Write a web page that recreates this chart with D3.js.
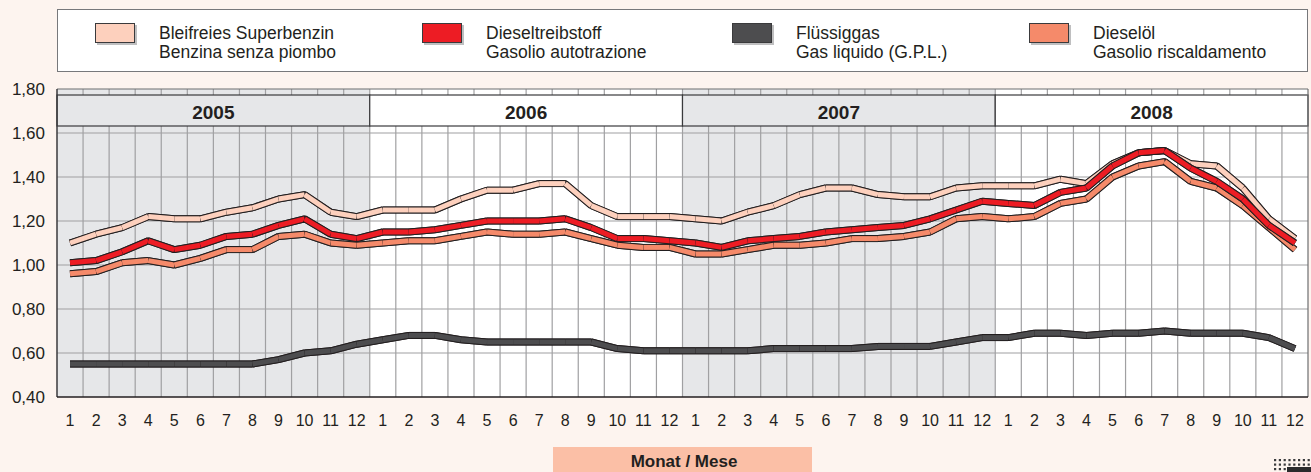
<!DOCTYPE html>
<html><head><meta charset="utf-8">
<script src="https://cdn.jsdelivr.net/npm/d3@7/dist/d3.min.js"></script>
<style>
html,body{margin:0;padding:0;background:#fdf4ef;}
svg{display:block;font-family:"Liberation Sans",Arial,sans-serif;}
</style></head><body>
<svg id="c" width="1311" height="472"></svg>
<script>
const years = ["2005","2006","2007","2008"];
const monthLabels = ["1","2","3","4","5","6","7","8","9","10","11","12"];
const yTicks = [0.40,0.60,0.80,1.00,1.20,1.40,1.60,1.80];

const benzin = [1.10,1.14,1.17,1.22,1.21,1.21,1.24,1.26,1.30,1.32,1.24,1.22,
 1.25,1.25,1.25,1.30,1.34,1.34,1.37,1.37,1.27,1.22,1.22,1.22,
 1.21,1.20,1.24,1.27,1.32,1.35,1.35,1.32,1.31,1.31,1.35,1.36,
 1.36,1.36,1.39,1.37,1.46,1.51,1.52,1.46,1.45,1.35,1.21,1.12];
const diesel = [1.01,1.02,1.06,1.11,1.07,1.09,1.13,1.14,1.18,1.21,1.14,1.12,
 1.15,1.15,1.16,1.18,1.20,1.20,1.20,1.21,1.17,1.12,1.12,1.11,
 1.10,1.08,1.11,1.12,1.13,1.15,1.16,1.17,1.18,1.21,1.25,1.29,
 1.28,1.27,1.33,1.35,1.45,1.51,1.52,1.44,1.38,1.30,1.18,1.10];
const heizoel = [0.96,0.97,1.01,1.02,1.00,1.03,1.07,1.07,1.13,1.14,1.10,1.09,
 1.10,1.11,1.11,1.13,1.15,1.14,1.14,1.15,1.12,1.09,1.08,1.08,
 1.05,1.05,1.07,1.09,1.09,1.10,1.12,1.12,1.13,1.15,1.21,1.22,
 1.21,1.22,1.28,1.30,1.40,1.45,1.47,1.38,1.35,1.27,1.17,1.07];
const gpl = [0.55,0.55,0.55,0.55,0.55,0.55,0.55,0.55,0.57,0.60,0.61,0.64,
 0.66,0.68,0.68,0.66,0.65,0.65,0.65,0.65,0.65,0.62,0.61,0.61,
 0.61,0.61,0.61,0.62,0.62,0.62,0.62,0.63,0.63,0.63,0.65,0.67,
 0.67,0.69,0.69,0.68,0.69,0.69,0.70,0.69,0.69,0.69,0.67,0.62];

const series = [
  {name:["Bleifreies Superbenzin","Benzina senza piombo"], values:benzin, color:"#fdd0bd"},
  {name:["Dieseltreibstoff","Gasolio autotrazione"], values:diesel, color:"#ed1c24"},
  {name:["Flüssiggas","Gas liquido (G.P.L.)"], values:gpl, color:"#4d4d4f"},
  {name:["Dieselöl","Gasolio riscaldamento"], values:heizoel, color:"#f58a6a"}
];
const drawOrder = [2,3,0,1];
const legendX = [95,422,732,1029];

const svg = d3.select("#c");
const L = 57, R = 1308, T = 89, B = 397;
const months = d3.range(years.length * monthLabels.length);
const x = d3.scaleBand().domain(months).range([L, R]).padding(0);
const cx = i => x(i) + x.bandwidth()/2;
const y = d3.scaleLinear().domain([0.4, 1.8]).range([B, T]);
const yearX = d3.scaleBand().domain(years).range([L, R]);

// legend
svg.append("rect").attr("x",L+0.5).attr("y",9.5).attr("width",R-L-1).attr("height",62)
  .attr("fill","#fff").attr("stroke","#77787b").attr("stroke-width",1);
series.forEach((s,k)=>{
  const g = svg.append("g").attr("transform",`translate(${legendX[k]},23)`);
  g.append("rect").attr("x",2).attr("y",2).attr("width",40).attr("height",20).attr("fill","#8a8a8c").attr("opacity",0.55);
  g.append("rect").attr("x",0.5).attr("y",0.5).attr("width",39).attr("height",19)
    .attr("fill",s.color).attr("stroke","#3a3a3c").attr("stroke-width",1);
  g.append("text").attr("x",64).attr("y",16).attr("font-size",17.5).attr("fill","#231f20").text(s.name[0]);
  g.append("text").attr("x",64).attr("y",35).attr("font-size",17.5).attr("fill","#231f20").text(s.name[1]);
});

// plot backgrounds
svg.append("g").selectAll("rect").data(years).join("rect")
  .attr("x",d=>yearX(d)).attr("y",T).attr("width",yearX.bandwidth()).attr("height",B-T)
  .attr("fill",(d,i)=> i%2===0 ? "#e6e7e9" : "#ffffff");

// vertical grid
svg.append("g").selectAll("line").data(months.slice(1)).join("line")
  .attr("x1",d=>x(d)).attr("x2",d=>x(d)).attr("y1",T).attr("y2",B)
  .attr("stroke","#a0a0a2").attr("stroke-width",1.2);
// horizontal grid
svg.append("g").selectAll("line").data(yTicks.slice(1,-1)).join("line")
  .attr("x1",L).attr("x2",R).attr("y1",d=>y(d)).attr("y2",d=>y(d))
  .attr("stroke","#a0a0a2").attr("stroke-width",1.2);

// year header boxes
const yb = svg.append("g");
yb.selectAll("rect").data(years).join("rect")
  .attr("x",d=>yearX(d)).attr("y",95).attr("width",yearX.bandwidth()).attr("height",31)
  .attr("fill",(d,i)=> i%2===0 ? "#e6e7e9" : "#ffffff")
  .attr("stroke","#3a3a3c").attr("stroke-width",1.2);
yb.selectAll("text").data(years).join("text")
  .attr("x",d=>yearX(d)+yearX.bandwidth()/2).attr("y",118.5)
  .attr("text-anchor","middle").attr("font-size",19).attr("font-weight","bold")
  .attr("fill","#231f20").text(d=>d);

// frame
svg.append("line").attr("x1",L).attr("x2",R).attr("y1",T).attr("y2",T).attr("stroke","#6d6e70").attr("stroke-width",1.2);
svg.append("line").attr("x1",R).attr("x2",R).attr("y1",T).attr("y2",B).attr("stroke","#6d6e70").attr("stroke-width",1.2);
svg.append("line").attr("x1",L).attr("x2",L).attr("y1",T).attr("y2",B).attr("stroke","#3a3a3c").attr("stroke-width",1.5);
svg.append("line").attr("x1",L).attr("x2",R).attr("y1",B).attr("y2",B).attr("stroke","#231f20").attr("stroke-width",1.5);

// y labels
svg.append("g").selectAll("text").data(yTicks).join("text")
  .attr("x",45).attr("y",d=>y(d)+6).attr("text-anchor","end").attr("font-size",17)
  .attr("fill","#231f20").text(d=>d3.format(".2f")(d).replace(".",","));

// x labels
svg.append("g").selectAll("text").data(months).join("text")
  .attr("x",d=>cx(d)).attr("y",426).attr("text-anchor","middle").attr("font-size",16)
  .attr("fill","#231f20").text(d=>monthLabels[d % 12]);

// lines
const line = d3.line().x(d=>cx(d.i)).y(d=>y(d.v));
drawOrder.forEach(k=>{
  const s = series[k];
  const pts = s.values.map((v,i)=>({i,v}));
  const g = svg.append("g");
  g.append("path").attr("d",line(pts)).attr("fill","none").attr("stroke","#231f20")
    .attr("stroke-width",7).attr("stroke-linejoin","round");
  for(let i=0;i<pts.length-1;i++){
    const seg = [pts[i],pts[i+1]];
    g.append("path").attr("d",line(seg)).attr("fill","none").attr("stroke","#231f20")
      .attr("stroke-width",7).attr("stroke-linecap","butt");
    g.append("path").attr("d",line(seg)).attr("fill","none").attr("stroke",s.color)
      .attr("stroke-width",5).attr("stroke-linecap","butt");
  }
});

// bottom label box
svg.append("rect").attr("x",553).attr("y",447).attr("width",259).attr("height",30).attr("fill","#fbbfa6");
svg.append("text").attr("x",684).attr("y",467).attr("text-anchor","middle").attr("font-size",17)
  .attr("font-weight","bold").attr("fill","#231f20").text("Monat / Mese");

// decorative dot pattern bottom right
const dg = svg.append("g");
for(let r=0;r<3;r++){
  for(let c=0;c<8;c++){
    dg.append("rect").attr("x",1274+c*4.8).attr("y",459+r*4.5).attr("width",2.2).attr("height",2.2).attr("fill","#3a3a3c");
  }
}
dg.append("rect").attr("x",1287).attr("y",467).attr("width",24).attr("height",5).attr("fill","#2a2a2c");
</script></body></html>
